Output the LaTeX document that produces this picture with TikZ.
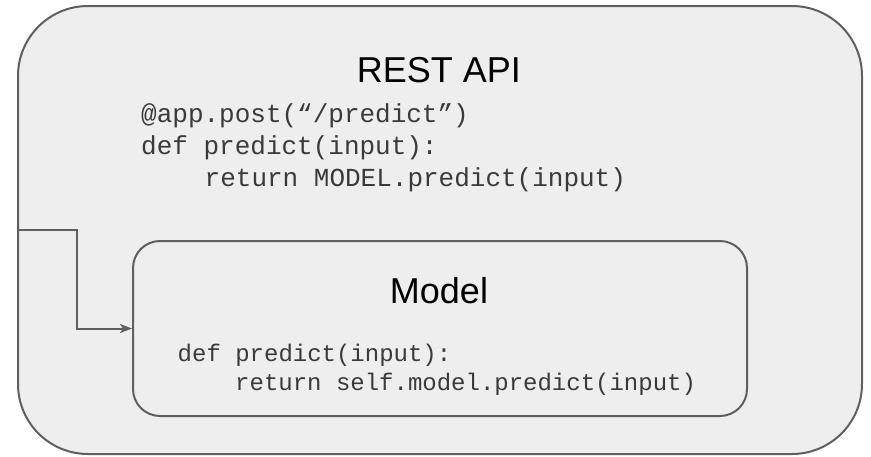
\documentclass[tikz,border=0pt]{standalone}
\usepackage{fontspec}
\setmainfont{Liberation Sans}
\newfontfamily\codefont{Liberation Mono}
\usetikzlibrary{arrows.meta}
\definecolor{linegray}{HTML}{5F5F5F}
\definecolor{boxfill}{HTML}{EEEEEE}
\definecolor{codecol}{HTML}{3A3A3A}
\tikzset{
  box/.style={draw=linegray, line width=2pt, fill=boxfill, rectangle, inner sep=0pt},
  title/.style={anchor=base, inner sep=0pt, font=\fontsize{36}{40}\selectfont, text=black},
  codebig/.style={anchor=base west, inner sep=0pt, font=\codefont\fontsize{26}{32}\selectfont, text=codecol},
  codesmall/.style={anchor=base west, inner sep=0pt, font=\codefont\fontsize{24}{29}\selectfont, text=codecol},
  conn/.style={draw=linegray, line width=2pt, -{Stealth[length=12pt,width=9pt,inset=3pt]}}
}
\begin{document}
\begin{tikzpicture}[x=1pt,y=-1pt]
\useasboundingbox (0,0) rectangle (871,456);
\node[box, rounded corners=70pt, minimum width=844pt, minimum height=448pt] (outer) at (440,230) {};
\node[box, rounded corners=27pt, minimum width=614pt, minimum height=175pt] (inner) at (440,328.5) {};
\node[title] (resttitle) at (439,82) {REST API};
\node[codebig] (rc1) at (141,122) {@app.post(“/predict”)};
\node[codebig] (rc2) at (141,154) {def predict(input):};
\node[codebig] (rc3) at (204.5,186) {return MODEL.predict(input)};
\node[title] (modeltitle) at (439,303) {Model};
\node[codesmall] (mc1) at (177.5,361) {def predict(input):};
\node[codesmall] (mc2) at (235,390) {return self.model.predict(input)};
\coordinate (bend) at (77,230);
\draw[conn] (outer.west) -- (bend) |- (inner.west);
\end{tikzpicture}
\end{document}
